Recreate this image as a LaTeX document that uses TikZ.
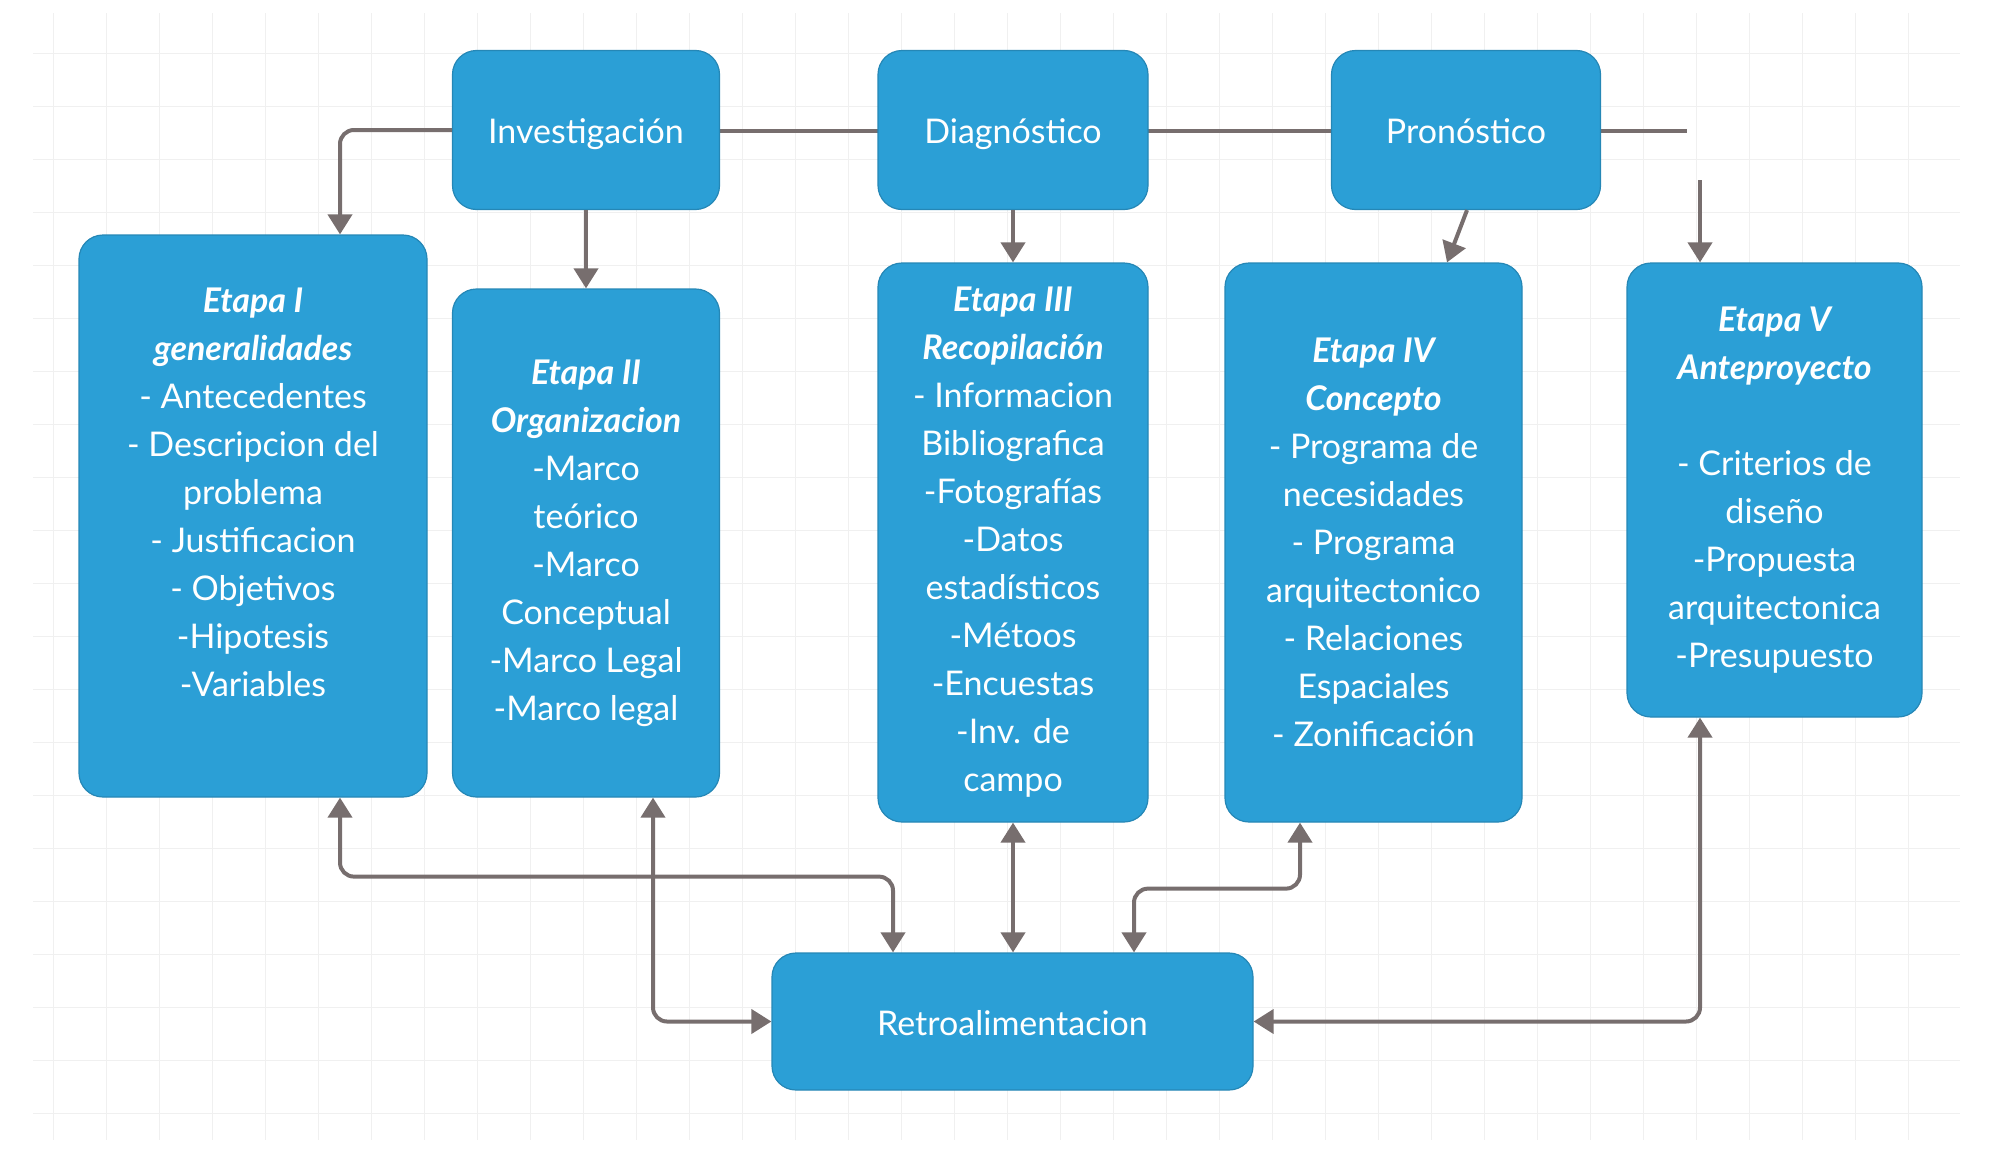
\documentclass[tikz,border=0pt]{standalone}
\usepackage{fontspec}
\setmainfont{Lato}
\usetikzlibrary{arrows.meta,calc}

\definecolor{etapablue}{HTML}{2B9FD6}
\definecolor{flechagray}{HTML}{776E6E}
\tikzset{punta/.tip={Triangle[width=12pt,length=10pt]}}

\begin{document}
\begin{tikzpicture}[x=0.5pt,y=-0.5pt,
  caja/.style={rectangle,rounded corners=12pt,fill=etapablue,draw=etapablue!85!black,line width=0.6pt,
    text=white,align=center,inner sep=0pt,font=\fontsize{17}{24}\selectfont},
  fase/.style={caja,minimum height=79.5pt,text height=15pt,text depth=1.5pt},
  flecha/.style={draw=flechagray,line width=2pt,rounded corners=7pt,-punta},
  dflecha/.style={flecha,punta-punta},
  linea/.style={draw=flechagray,line width=2pt,rounded corners=7pt}]

\useasboundingbox (0,0) rectangle (1989,1151);
\draw[black!6,line width=0.5pt,step=26.5pt] (33,13) grid (1960,1140);

%%%%%%%%%%%%%%%%%%%%%% FASES

\coordinate (finR) at (1687,131);
\coordinate (iniV) at (1700,180);

\draw[linea] (453,131) -- (finR);

\node[fase,minimum width=133.5pt] (inv) at (586,130) {Investigación};
\node[fase,minimum width=135pt] (dia) at (1013,130) {Diagnóstico};
\node[fase,minimum width=134.5pt] (pro) at (1466,130) {Pronóstico};

%%%%%%%%%%%%%%%%%%%%%% ETAPAS

\node[caja,minimum width=174pt,minimum height=281pt] (e1) at (253,516)
  {{\bfseries\itshape Etapa I}\\{\bfseries\itshape generalidades}\\- Antecedentes\\- Descripcion del\\problema\\- Justificacion\\- Objetivos\\-Hipotesis\\-Variables\\~};
\node[caja,minimum width=133.5pt,minimum height=254pt] (e2) at (586,543)
  {{\bfseries\itshape Etapa II}\\{\bfseries\itshape Organizacion}\\-Marco\\teórico\\-Marco\\Conceptual\\-Marco Legal\\-Marco legal};
\node[caja,minimum width=135pt,minimum height=279.5pt] (e3) at (1013,542.5)
  {{\bfseries\itshape Etapa III}\\{\bfseries\itshape Recopilación}\\- Informacion\\Bibliografica\\-Fotografías\\-Datos\\estadísticos\\-Métoos\\-Encuestas\\-Inv. de\\campo};
\node[caja,minimum width=148.5pt,minimum height=279.5pt] (e4) at (1373.5,542.5)
  {{\bfseries\itshape Etapa IV}\\{\bfseries\itshape Concepto}\\- Programa de\\necesidades\\- Programa\\arquitectonico\\- Relaciones\\Espaciales\\- Zonificación};
\node[caja,minimum width=147.5pt,minimum height=227pt] (e5) at (1774.5,490)
  {{\bfseries\itshape Etapa V}\\{\bfseries\itshape Anteproyecto}\\~\\- Criterios de\\diseño\\-Propuesta\\arquitectonica\\-Presupuesto};

\node[fase,minimum width=240.5pt,minimum height=68.5pt] (retro) at (1012.5,1021.5) {Retroalimentacion};

\draw[flecha] (inv.west) -| ($(e1.north)+(87,0)$);
\draw[flecha] (inv.south) -- (e2.north);
\draw[flecha] (dia.south) -- (e3.north);
\draw[flecha] ($(pro.south)+(1,0)$) -- ($(e4.north)+(73.5,0)$);
\draw[flecha] (iniV) -- ($(e5.north)+(-74.5,0)$);

%%%%%%%%%%%%%%%%%%%%%% RETROALIMENTACION

\draw[dflecha] ($(e1.south)+(87,0)$) -- ++(0,79) -| ($(retro.north)+(-119.5,0)$);
\draw[dflecha] ($(e2.south)+(67,0)$) |- (retro.west);
\draw[dflecha] (e3.south) -- (e3.south |- retro.north);
\draw[dflecha] ($(e4.south)+(-73.5,0)$) -- ++(0,66) -| ($(retro.north)+(121.5,0)$);
\draw[dflecha] ($(e5.south)+(-74.5,0)$) |- (retro.east);

\end{tikzpicture}
\end{document}
